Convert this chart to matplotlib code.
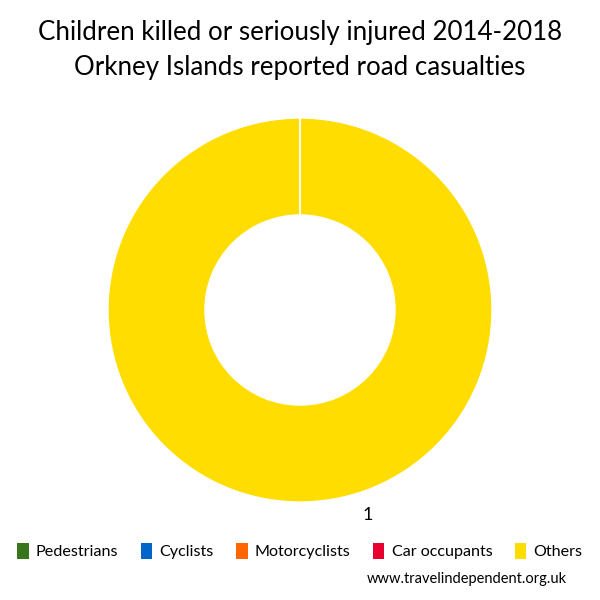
import matplotlib
matplotlib.use("Agg")
import numpy as np
import matplotlib.pyplot as plt
from matplotlib.patches import Patch

plt.rcParams['font.family'] = ['Lato', 'DejaVu Sans']

categories = ["Pedestrians", "Cyclists", "Motorcyclists", "Car occupants", "Others"]
values = [0, 0, 0, 0, 1]
colors = ["#38761D", "#0066CC", "#FF6600", "#E8002F", "#FFDD00"]
title = "Children killed or seriously injured 2014-2018\nOrkney Islands reported road casualties"
source = "www.travelindependent.org.uk"

fig = plt.figure(figsize=(6, 6), dpi=100)
ax = fig.add_axes([0.18, 0.1633, 0.64, 0.64])

wedges, _ = ax.pie(values, colors=colors, startangle=90, counterclock=False,
                   radius=1.0, wedgeprops=dict(width=0.505, edgecolor="white", linewidth=1))

# slice boundary line (full ring wedge draws no radial edge)
for w in wedges:
    t = np.deg2rad(w.theta1)
    r_out, r_in = w.r, w.r - w.width
    ax.plot([r_in * np.cos(t), r_out * np.cos(t)], [r_in * np.sin(t), r_out * np.sin(t)],
            color="white", lw=1.2, solid_capstyle="butt")

ax.set_xlim(-1, 1)
ax.set_ylim(-1, 1)
ax.set_aspect("equal")
ax.axis("off")

# data label for the non-zero slice
for v in values:
    if v > 0:
        ax.text(0.355, -1.07, str(v), fontsize=13, ha="center", va="center")

fig.text(0.5, 1 - 50 / 600, title, ha="center", va="center", fontsize=18.6, linespacing=1.5)

handles = [Patch(facecolor=c, edgecolor="none") for c in colors]
fig.legend(handles, categories, loc="center", bbox_to_anchor=(0.5, 1 - 551 / 600),
           ncol=5, frameon=False, fontsize=11.6, handlelength=0.7, handleheight=1.2,
           handletextpad=0.45, columnspacing=1.4)

fig.text(567 / 600, 1 - 579 / 600, source, ha="right", va="center", fontsize=10.5)

fig.savefig("out.png", dpi=100)
